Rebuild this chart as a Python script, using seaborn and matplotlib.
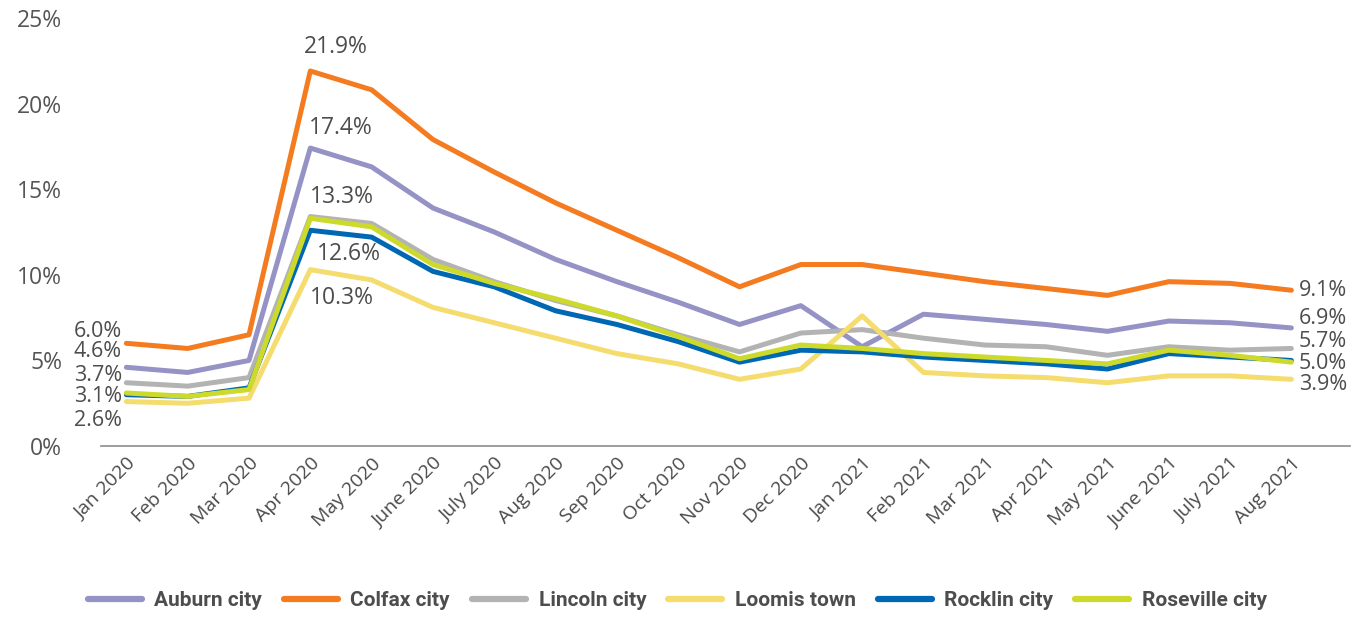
import matplotlib
matplotlib.use("Agg")
import matplotlib.pyplot as plt
import seaborn as sns
import pandas as pd
import numpy as np

months = ["Jan 2020", "Feb 2020", "Mar 2020", "Apr 2020", "May 2020", "June 2020",
          "July 2020", "Aug 2020", "Sep 2020", "Oct 2020", "Nov 2020", "Dec 2020",
          "Jan 2021", "Feb 2021", "Mar 2021", "Apr 2021", "May 2021", "June 2021",
          "July 2021", "Aug 2021"]

auburn    = [4.6, 4.3, 5.0, 17.4, 16.3, 13.9, 12.5, 10.9, 9.6, 8.4, 7.1, 8.2, 5.8, 7.7, 7.4, 7.1, 6.7, 7.3, 7.2, 6.9]
colfax    = [6.0, 5.7, 6.5, 21.9, 20.8, 17.9, 16.0, 14.2, 12.6, 11.0, 9.3, 10.6, 10.6, 10.1, 9.6, 9.2, 8.8, 9.6, 9.5, 9.1]
lincoln   = [3.7, 3.5, 4.0, 13.4, 13.0, 10.9, 9.6, 8.5, 7.6, 6.5, 5.5, 6.6, 6.8, 6.3, 5.9, 5.8, 5.3, 5.8, 5.6, 5.7]
loomis    = [2.6, 2.5, 2.8, 10.3, 9.7, 8.1, 7.2, 6.3, 5.4, 4.8, 3.9, 4.5, 7.6, 4.3, 4.1, 4.0, 3.7, 4.1, 4.1, 3.9]
rocklin   = [3.0, 2.9, 3.4, 12.6, 12.2, 10.2, 9.3, 7.9, 7.1, 6.1, 4.9, 5.6, 5.5, 5.2, 5.0, 4.8, 4.5, 5.4, 5.2, 5.0]
roseville = [3.1, 2.9, 3.3, 13.3, 12.8, 10.6, 9.5, 8.6, 7.6, 6.4, 5.1, 5.9, 5.7, 5.4, 5.2, 5.0, 4.8, 5.6, 5.3, 4.9]

series_names = ["Auburn city", "Colfax city", "Lincoln city", "Loomis town", "Rocklin city", "Roseville city"]
series_values = [auburn, colfax, lincoln, loomis, rocklin, roseville]
colors = ["#9593C6", "#F47B20", "#B3B3B3", "#F5DC6E", "#0068B3", "#CDD92B"]

# label texts
left_labels = ["6.0%", "4.6%", "3.7%", "3.1%", "2.6%"]
peak_labels = ["21.9%", "17.4%", "13.3%", "12.6%", "10.3%"]
right_labels = ["9.1%", "6.9%", "5.7%", "5.0%", "3.9%"]

rows = []
for name, vals in zip(series_names, series_values):
    for i, v in enumerate(vals):
        rows.append({"idx": i, "month": months[i], "rate": v, "city": name})
df = pd.DataFrame(rows)

sns.set_theme(style="white")
plt.rcParams["font.family"] = ["Open Sans", "DejaVu Sans"]

fig = plt.figure(figsize=(13.68, 6.17), dpi=100)
ax = fig.add_axes([0.074, 0.277, 0.913, 0.694])

sns.lineplot(data=df, x="idx", y="rate", hue="city", hue_order=series_names,
             palette=colors, linewidth=3.6, ax=ax, legend=True, sort=False)

ax.set_xlim(-0.41, 19.96)
ax.set_ylim(0, 25)
ax.set_yticks([0, 5, 10, 15, 20, 25])
ax.set_yticklabels(["0%", "5%", "10%", "15%", "20%", "25%"])
ax.set_xticks(range(len(months)))
ax.set_xticklabels(months, rotation=45, ha="right", rotation_mode="anchor")
ax.set_xlabel("")
ax.set_ylabel("")
tick_color = "#555555"
ax.tick_params(axis="y", labelsize=16.5, colors=tick_color, length=0, pad=28)
ax.tick_params(axis="x", labelsize=14, colors="#4a4a4a", length=0, pad=6)
for s in ["top", "right", "left"]:
    ax.spines[s].set_visible(False)
ax.spines["bottom"].set_color("#8c8c8c")
ax.spines["bottom"].set_linewidth(1.2)
ax.grid(False)

lab_color = "#4d4d4d"
fs = 15.5
# left labels (layout positions)
left_y = [6.67, 5.5, 4.15, 2.87, 1.52]
for t, y in zip(left_labels, left_y):
    ax.text(-0.07, y, t, ha="right", va="center", fontsize=fs, color=lab_color)
# peak labels
peak_pos = [(2.9, 23.3), (2.98, 18.6), (3.0, 14.56), (3.1, 11.2), (3.0, 8.65)]
for t, (x, y) in zip(peak_labels, peak_pos):
    ax.text(x, y, t, ha="left", va="center", fontsize=16.5, color=lab_color)
# right labels
right_y = [9.06, 7.43, 6.08, 4.85, 3.57]
for t, y in zip(right_labels, right_y):
    ax.text(19.12, y, t, ha="left", va="center", fontsize=fs, color=lab_color)

handles, labels = ax.get_legend_handles_labels()
ax.legend_.remove()
leg = fig.legend(handles, labels, loc="center", bbox_to_anchor=(0.495, 0.027),
                 ncol=6, frameon=False, handlelength=2.6, handletextpad=0.6,
                 columnspacing=1.05,
                 prop={"family": ["Roboto", "DejaVu Sans"], "weight": "bold", "size": 15})
for h in leg.get_lines():
    h.set_linewidth(4.5)
for t in leg.get_texts():
    t.set_color("#4d4d4d")

fig.savefig("out.png", dpi=100)
